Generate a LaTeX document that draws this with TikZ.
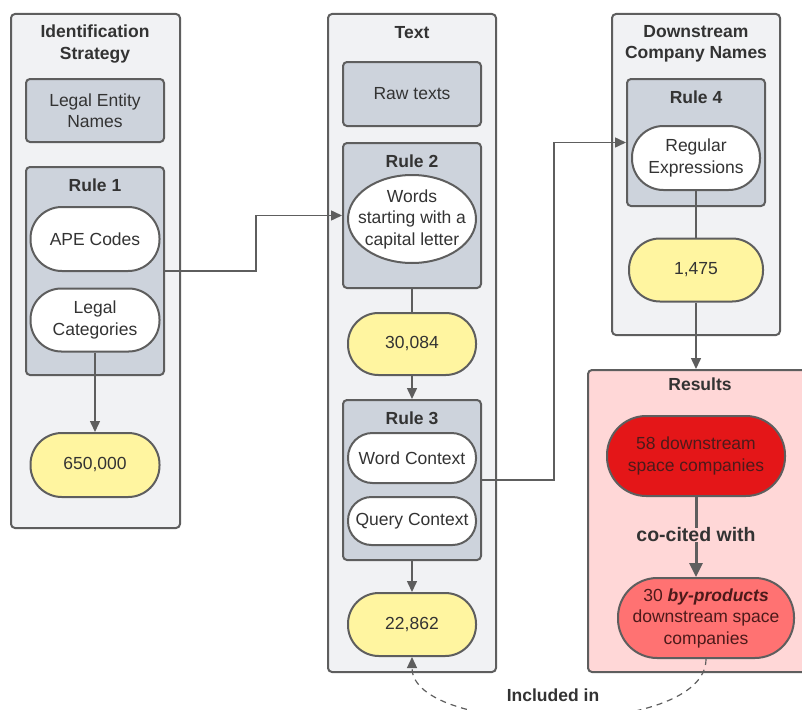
\documentclass[tikz,border=0pt]{standalone}
\usepackage{fontspec}
\setmainfont{Liberation Sans}
\usepackage{tikz}
\usetikzlibrary{arrows.meta}
\usetikzlibrary{shapes.geometric}

\definecolor{panelgray}{HTML}{F1F2F4}
\definecolor{rulegray}{HTML}{CDD3DC}
\definecolor{edgegray}{HTML}{5E5E5E}
\definecolor{textgray}{HTML}{333333}
\definecolor{countyellow}{HTML}{FFF5A0}
\definecolor{resultpink}{HTML}{FFD7D7}
\definecolor{firstred}{HTML}{E41618}
\definecolor{secondred}{HTML}{FF7272}
\definecolor{redtext}{HTML}{4D1A1A}

\tikzset{
  txt/.style={font=\fontsize{17.5}{21.5}\selectfont, text=textgray, align=center},
  panel/.style={draw=edgegray, line width=2pt, fill=panelgray, rounded corners=4pt, inner sep=0pt},
  rulebox/.style={panel, txt, fill=rulegray, minimum width=138pt},
  title/.style={txt, font=\fontsize{17.5}{21.5}\selectfont\bfseries, inner sep=0pt},
  pill/.style 2 args={txt, draw=edgegray, line width=2pt, fill=white, inner sep=0pt,
    minimum width=#1pt, minimum height=#2pt, rounded corners={0.49*#2pt}},
  count/.style 2 args={pill={#1}{#2}, fill=countyellow},
  link/.style={draw=edgegray, line width=1.5pt},
  arr/.style={link, -{Triangle[length=11pt,width=10pt]}},
}

\begin{document}
\begin{tikzpicture}[x=1pt,y=-1pt]
\useasboundingbox (0,0) rectangle (802,709);
\clip (0,0) rectangle (802,709);

% panels
\node[panel, minimum width=169pt, minimum height=514pt] (idpanel) at (95.5,271) {};
\node[panel, minimum width=168pt, minimum height=658pt] (textpanel) at (412,343) {};
\node[panel, minimum width=168pt, minimum height=321pt] (namepanel) at (696,174.5) {};
\node[panel, fill=resultpink, minimum width=224pt, minimum height=302pt] (respanel) at (700,521) {};
\node[title] (idtitle) at (95,44) {Identification\\Strategy};
\node[title] (texttitle) at (412,33) {Text};
\node[title] (nametitle) at (696,44) {Downstream\\Company Names};
\node[title] (restitle) at (700,384) {Results};

% identification strategy
\node[rulebox, minimum height=63pt] (legal) at (95,110.5) {Legal Entity\\Names};
\node[rulebox, minimum height=208pt] (rule1) at (95,271) {};
\node[title] (rule1title) at (95,185) {Rule 1};
\node[pill={129}{64}] (ape) at (95,239) {APE Codes};
\node[pill={129}{63}] (legcat) at (95,320) {Legal\\Categories};
\node[count={129}{64}] (n650) at (95,465) {650,000};

% text
\node[rulebox, minimum height=64pt] (raw) at (412,94) {Raw texts};
\node[rulebox, minimum height=145pt] (rule2) at (412,215.5) {};
\node[title] (rule2title) at (412,161) {Rule 2};
\node[txt, ellipse, draw=edgegray, line width=2pt, fill=white, inner xsep=-16pt, inner ysep=0pt,
  minimum width=128pt, minimum height=88pt] (words) at (412,219) {Words\\starting with a\\capital letter};
\node[count={128}{62}] (n30084) at (412,344) {30,084};
\node[rulebox, minimum height=160pt] (rule3) at (412,480) {};
\node[title] (rule3title) at (412,418) {Rule 3};
\node[pill={128}{50}] (wordctx) at (412,458) {Word Context};
\node[pill={128}{48}] (queryctx) at (412,521) {Query Context};
\node[count={128}{63}] (n22862) at (412,624.5) {22,862};

% downstream company names
\node[rulebox, minimum height=127pt] (rule4) at (696,142.5) {};
\node[title] (rule4title) at (696,97) {Rule 4};
\node[pill={128}{64}] (regex) at (696,158) {Regular\\Expressions};
\node[count={134}{63}] (n1475) at (696,270) {1,475};

% results
\node[pill={178}{80}, fill=firstred, text=redtext] (res58) at (696,456) {58 downstream\\space companies};
\node[title, font=\fontsize{19.5}{23}\selectfont\bfseries] (cocited) at (696,535) {co-cited with};
\node[pill={176}{80}, fill=secondred, text=redtext] (res30) at (706,618)
  {30 \textbf{\textit{by-products}}\\downstream space\\companies};

% connectors
\draw[arr] (rule1.east) -- ++(91,0) |- (rule2.west);
\draw[arr] (rule3.east) -- ++(72,0) |- (rule4.west);
\draw[arr] (legcat.south) -- (n650.north);
\draw[link] (rule2.south) -- (n30084.north);
\draw[arr] (n30084.south) -- (rule3.north);
\draw[arr] (rule3.south) -- (n22862.north);
\draw[link] (regex.south) -- (n1475.north);
\draw[arr] (n1475.south) -- (n1475.south |- respanel.north);
\draw[link, line width=3pt] (res58.south) -- (cocited.north);
\draw[link, line width=3pt, -{Triangle[length=14pt,width=13pt]}] (cocited.south) -- (cocited.south |- res30.north);
\draw[arr, line width=1.2pt, dash pattern=on 6pt off 5pt] (res30.south) .. controls +(0,80) and +(0,80) .. (n22862.south);
\node[title] (included) at (553,695) {Included in};
\end{tikzpicture}
\end{document}
